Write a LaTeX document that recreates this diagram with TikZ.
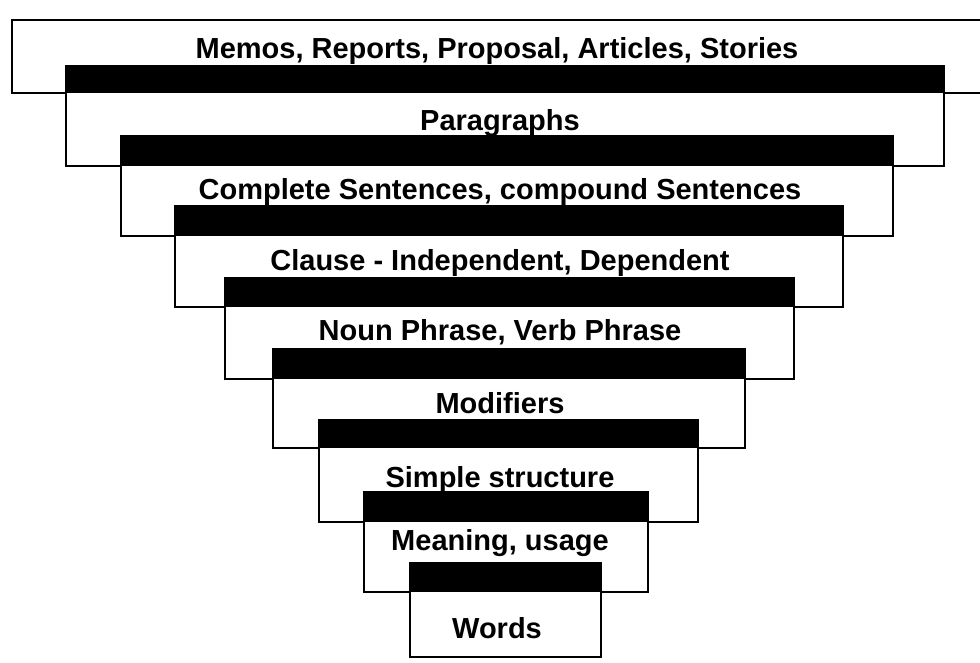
\documentclass[tikz,border=0pt]{standalone}
\usepackage{fontspec}
\setmainfont{Liberation Sans}

\tikzset{
  levelbox/.style={draw, line width=1.6pt, fill=white},
  topbar/.style={fill=black},
  lvltext/.style={inner sep=0pt, anchor=base, font=\bfseries\fontsize{29}{33}\selectfont}
}

\begin{document}
\begin{tikzpicture}[x=1pt,y=-1pt]
\useasboundingbox (0,0) rectangle (980,662);
%----Memos-------------------------------------
\draw[levelbox] (980,20) -- (12,20) -- (12,93) -- (980,93);
\node[lvltext] (memos) at (497,58) {Memos, Reports, Proposal, Articles, Stories};
%----Paragraphs--------------------------------
\draw[levelbox] (66,66) rectangle (944,166);
\fill[topbar] (66,66) rectangle (944,93);
\node[lvltext] (para) at (500,130) {Paragraphs};
%----Sentences---------------------------------
\draw[levelbox] (121,136) rectangle (893,236);
\fill[topbar] (121,136) rectangle (893,166);
\node[lvltext] (sent) at (500,199) {Complete Sentences, compound Sentences};
%----Clause------------------------------------
\draw[levelbox] (175,206) rectangle (843,307);
\fill[topbar] (175,206) rectangle (843,236);
\node[lvltext] (clause) at (500,270) {Clause - Independent, Dependent};
%----Phrases-----------------------------------
\draw[levelbox] (225,278) rectangle (794,379);
\fill[topbar] (225,278) rectangle (794,307);
\node[lvltext] (phrase) at (500,340) {Noun Phrase, Verb Phrase};
%----Modifiers---------------------------------
\draw[levelbox] (273,349) rectangle (745,448);
\fill[topbar] (273,349) rectangle (745,379);
\node[lvltext] (modif) at (500,413) {Modifiers};
%----Simple structure--------------------------
\draw[levelbox] (319,420) rectangle (698,522);
\fill[topbar] (319,420) rectangle (698,448);
\node[lvltext] (simple) at (500,487) {Simple structure};
%----Meaning-----------------------------------
\draw[levelbox] (364,492) rectangle (648,592);
\fill[topbar] (364,492) rectangle (648,522);
\node[lvltext] (meaning) at (500,550) {Meaning, usage};
%----Words-------------------------------------
\draw[levelbox] (410,563) rectangle (601,657);
\fill[topbar] (410,563) rectangle (601,592);
\node[lvltext] (words) at (497,638) {Words};
\end{tikzpicture}
\end{document}
